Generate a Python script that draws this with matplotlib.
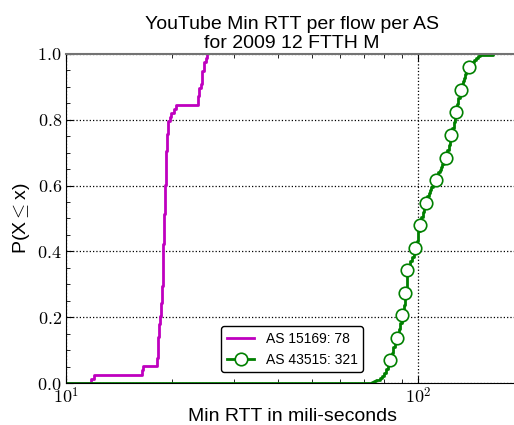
import numpy as np
import matplotlib
matplotlib.use("Agg")
import matplotlib.pyplot as plt
from matplotlib.ticker import FuncFormatter, MultipleLocator, LogLocator

plt.rcParams["font.family"] = ["Liberation Sans", "DejaVu Sans"]
plt.rcParams["mathtext.fontset"] = "cm"

# min RTT per flow (ms) and how many flows had it
google_rtt = [11.8, 12.0, 16.4, 16.5, 18.1, 18.2, 18.3, 18.4, 18.5, 18.6, 18.7,
              18.8, 18.9, 19.0, 19.1, 19.2, 19.3, 19.5, 19.7, 19.9, 20.2, 20.5,
              23.7, 23.9, 24.1, 24.4, 24.6, 24.9, 25.2]
google_cnt = [1, 1, 1, 1, 2, 2, 3, 3, 2, 3, 4,
              5, 5, 7, 7, 8, 4, 3, 1, 1, 1, 1,
              2, 2, 1, 3, 2, 1, 1]

local_rtt = [74, 75, 76, 78, 79, 80, 81, 82, 83, 84, 85, 86, 87, 88, 89, 90,
             91, 92, 93, 94, 95, 96, 97, 98, 99, 100, 101, 102, 103, 104, 105,
             106, 107, 108, 109, 110, 111, 112, 113, 114, 115, 116, 117, 118,
             119, 120, 121, 122, 123, 124, 125, 126, 127, 128, 129, 130, 131,
             132, 133, 134, 135, 136, 137, 138, 139, 140, 142, 144, 146, 148,
             150, 163]
local_cnt = [1, 1, 1, 2, 2, 3, 4, 5, 5, 5, 6, 6, 6, 6, 6, 7,
             10, 13, 21, 5, 4, 4, 4, 5, 7, 9, 8, 6, 5, 6, 5,
             4, 3, 3, 3, 3, 3, 3, 3, 3, 2, 3, 3, 2,
             3, 3, 5, 5, 6, 6, 5, 6, 6, 6, 5, 6, 6,
             5, 3, 3, 3, 3, 3, 3, 2, 2, 2, 2, 2, 2,
             1, 1]

labels = ["AS 15169: 78", "AS 43515: 321"]

XMIN, XMAX = 10, 192


def cdf(rtt, cnt):
    x = np.repeat(rtt, cnt).astype(float)
    y = np.arange(1, len(x) + 1) / len(x)
    # start the curve at zero from the left edge
    return np.concatenate([[XMIN], x]), np.concatenate([[0.0], y])


fig = plt.figure(figsize=(5.14, 4.25), dpi=100)
ax = fig.add_axes([66 / 514, 42 / 425, 452 / 514, 329 / 425])

x1, y1 = cdf(google_rtt, google_cnt)
x2, y2 = cdf(local_rtt, local_cnt)
ax.plot(x1, y1, color="#bf00bf", lw=2, drawstyle="steps-post", label=labels[0])
ax.plot(x2, y2, color="#008000", lw=2, drawstyle="steps-post",
        marker="o", ms=9, mfc="white", mec="#008000", mew=1.2,
        markevery=(22, 22), label=labels[1])

ax.set_xscale("log")
ax.set_xlim(XMIN, XMAX)
ax.set_ylim(0, 1)
ax.xaxis.set_major_locator(LogLocator(base=10))
ax.xaxis.set_major_formatter(FuncFormatter(lambda v, p: r"$10^{%d}$" % round(np.log10(v))))
ax.yaxis.set_major_locator(MultipleLocator(0.2))
ax.yaxis.set_minor_locator(MultipleLocator(0.05))
ax.yaxis.set_major_formatter(FuncFormatter(lambda v, p: r"$%.1f$" % v))
ax.tick_params(which="both", direction="in", top=True, right=False, labelsize=13, pad=3)
ax.tick_params(which="major", length=5)
ax.tick_params(which="minor", length=3)
ax.grid(True, which="major", linestyle=":", color="black", lw=0.9)
ax.spines["top"].set_color("0.45")
ax.spines["top"].set_linewidth(1.5)
ax.spines["right"].set_visible(False)

ax.set_title("YouTube Min RTT per flow per AS\nfor 2009 12 FTTH M", fontsize=14, pad=4,
             linespacing=1.15)
ax.set_xlabel("Min RTT in mili-seconds", fontsize=14, labelpad=0)
ax.set_ylabel(r"P(X$\leq$x)", fontsize=14, labelpad=4)

leg = ax.legend(loc="lower center", bbox_to_anchor=(0.5, 0.012), fontsize=10,
                framealpha=1, edgecolor="black", fancybox=True)
leg.get_frame().set_linewidth(1.0)

fig.savefig("out.png", dpi=100)
